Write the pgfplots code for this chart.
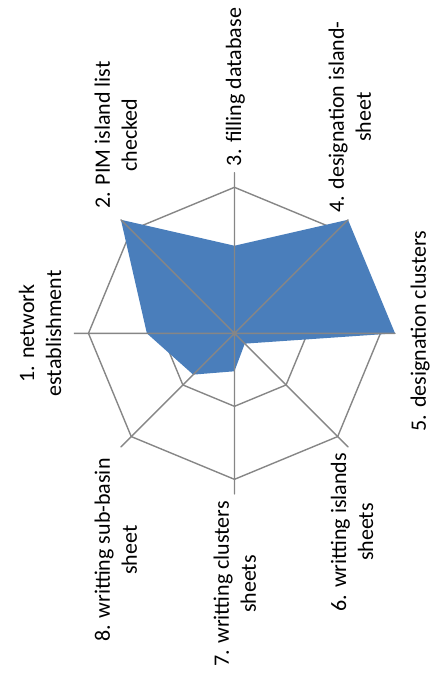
\documentclass[border=0pt]{standalone}
\usepackage{pgfplots}
\pgfplotsset{compat=1.18}
\usepackage{pgfplotstable}
\usepackage{fontspec}
\setmainfont{Carlito}
\definecolor{serblue}{RGB}{74,126,187}
\definecolor{gridc}{RGB}{134,134,134}
\pgfplotstableread{
a r
180 0.6
135 1.1
90 0.6
45 1.1
0 1.1
-45 0.1
-90 0.26
-135 0.4
}\datatab
\pgfplotstableread{
a r
0 1
45 1
90 1
135 1
180 1
225 1
270 1
315 1
360 1
}\ringtab
\pgfplotstableread{
a r
180 1.1
0 0
135 1.1
0 0
90 1.1
0 0
45 1.1
0 0
0 1.1
0 0
-45 1.1
0 0
-90 1.1
0 0
-135 1.1
0 0
}\spoketab
\begin{document}
\begin{tikzpicture}
\useasboundingbox (0,0) rectangle (216.5pt,338pt);
\begin{axis}[at={(0,0)}, anchor=south west, scale only axis,
  width=216.5pt, height=338pt,
  xmin=-1.606, xmax=1.360, ymin=-2.347, ymax=2.283,
  hide axis, clip=false]
\addplot[gridc, line width=0.7pt, no markers] table[x expr={0.5*\thisrow{r}*cos(\thisrow{a})}, y expr={0.5*\thisrow{r}*sin(\thisrow{a})}] {\ringtab};
\addplot[gridc, line width=0.7pt, no markers] table[x expr={\thisrow{r}*cos(\thisrow{a})}, y expr={\thisrow{r}*sin(\thisrow{a})}] {\ringtab};
\addplot[fill=serblue, draw=none, no markers] table[x expr={\thisrow{r}*cos(\thisrow{a})}, y expr={\thisrow{r}*sin(\thisrow{a})}] {\datatab} -- cycle;
\addplot[gridc, line width=0.7pt, no markers, line join=round] table[x expr={\thisrow{r}*cos(\thisrow{a})}, y expr={\thisrow{r}*sin(\thisrow{a})}] {\spoketab};
\begin{scope}[every node/.style={rotate=90, align=center, font=\fontsize{11}{13.5}\selectfont, text=black, inner sep=0pt}]
\node at (axis cs:-1.332,0) {1. network\\establishment};
\node at (axis cs:-0.812,1.358) {2. PIM island list\\checked};
\node at (axis cs:0.007,1.687) {3. filling database};
\node at (axis cs:0.791,1.481) {4. designation island-\\sheet};
\node at (axis cs:1.271,0.016) {5. designation clusters};
\node at (axis cs:0.805,-1.361) {6. writting islands\\sheets};
\node at (axis cs:0.003,-1.717) {7. writting clusters\\sheets};
\node at (axis cs:-0.812,-1.484) {8. writting sub-basin\\sheet};
\end{scope}
\end{axis}
\end{tikzpicture}
\end{document}
